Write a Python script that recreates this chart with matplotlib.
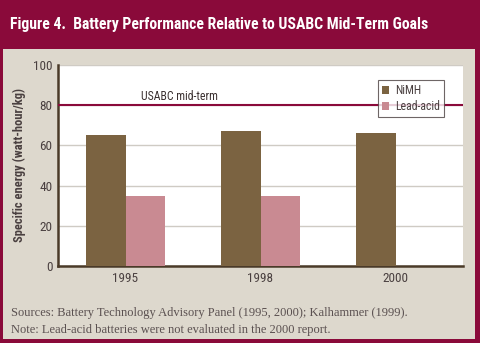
import matplotlib
matplotlib.use("Agg")
import matplotlib.pyplot as plt
from matplotlib.patches import Rectangle
from matplotlib import font_manager
import numpy as np

years = ["1995", "1998", "2000"]
nimh = [65, 67, 66]
lead_acid = [35, 35, np.nan]
goal = 80
yticks = [0, 20, 40, 60, 80, 100]

maroon = "#8A0A3A"
bg = "#DDD8CD"
brown = "#7B6341"
pink = "#C98A92"
spine = "#4A3A28"

names = {f.name for f in font_manager.fontManager.ttflist}
cond = [n for n in ["Liberation Sans Narrow", "DejaVu Sans Condensed", "Roboto Condensed"] if n in names]
narrow = cond + ["DejaVu Sans"]

fig = plt.figure(figsize=(4.8, 3.43), dpi=100)
fig.patch.set_facecolor(maroon)
W, H = 480, 343
fig.add_artist(Rectangle((3 / W, 4 / H), (475 - 3) / W, (339 - 49) / H,
                         transform=fig.transFigure, facecolor=bg, edgecolor="none", zorder=0))
fig.text(10 / W, 1 - 25 / H, "Figure 4.  Battery Performance Relative to USABC Mid-Term Goals",
         color="white", fontsize=11.3, fontweight="bold", family=narrow, stretch="condensed",
         va="center", ha="left")

ax = fig.add_axes([58 / W, 1 - 266 / H, (463 - 58) / W, (266 - 65) / H])
ax.set_facecolor("white")
x = np.arange(len(years))
w = 0.29
ax.bar(x - w / 2, nimh, width=w, color=brown, label="NiMH", zorder=3)
ax.bar(x + w / 2, lead_acid, width=w, color=pink, label="Lead-acid", zorder=3)
ax.axhline(goal, color=maroon, lw=1.5, zorder=4)
ax.text(0.4, goal + 1.2, "USABC mid-term", color="#3A3030", fontsize=8.5, family=narrow,
        stretch="condensed", ha="center", va="bottom", zorder=5)
ax.set_xlim(-0.5, 2.5)
ax.set_ylim(0, 100)
ax.set_yticks(yticks)
ax.set_xticks(x)
ax.set_xticklabels(years)
ax.yaxis.grid(True, color="#CFCBC4", lw=1, zorder=0)
ax.set_axisbelow(True)
for s in ["top", "right"]:
    ax.spines[s].set_visible(False)
for s in ["left", "bottom"]:
    ax.spines[s].set_color(spine)
    ax.spines[s].set_linewidth(1.8)
ax.tick_params(length=0, labelsize=9.5, colors="#4A4040", pad=4)
for lbl in ax.get_xticklabels() + ax.get_yticklabels():
    lbl.set_family(narrow)
    lbl.set_stretch("condensed")
ax.set_ylabel("Specific energy (watt-hour/kg)", fontsize=9, fontweight="bold",
              family=narrow, stretch="condensed", color="#4A4040", labelpad=5)
leg = ax.legend(loc="upper left", bbox_to_anchor=((378 - 58) / 405, 1 - (80 - 65) / 201),
                borderaxespad=0, frameon=True, fancybox=False, handlelength=0.6, handleheight=0.6,
                handletextpad=0.5, borderpad=0.35, labelspacing=0.25,
                prop={"family": narrow, "size": 8.5, "stretch": "condensed"})
leg.get_frame().set_edgecolor("#4A4040")
leg.get_frame().set_linewidth(0.8)
leg.set_zorder(6)
for t in leg.get_texts():
    t.set_color("#4A4040")

serif = ["Liberation Serif", "DejaVu Serif"]
fig.text(11 / W, 1 - 313 / H, "Sources: Battery Technology Advisory Panel (1995, 2000); Kalhammer (1999).",
         family=serif, fontsize=9, color="#5A5050", va="center")
fig.text(11 / W, 1 - 330 / H, "Note: Lead-acid batteries were not evaluated in the 2000 report.",
         family=serif, fontsize=9, color="#5A5050", va="center")

fig.savefig("out.png", dpi=100, facecolor=fig.get_facecolor())
